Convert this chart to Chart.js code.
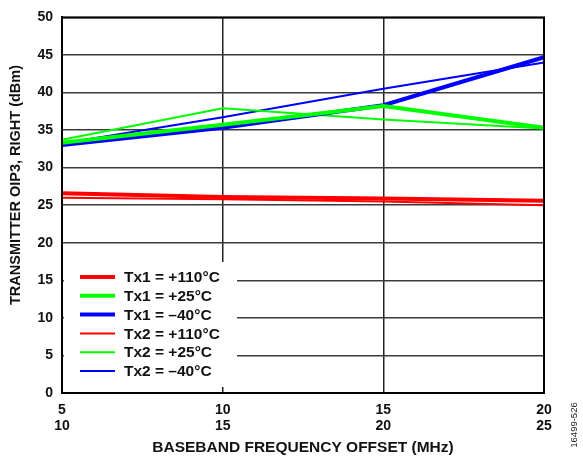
<!DOCTYPE html>
<html>
<head>
<meta charset="utf-8">
<script src="https://cdn.jsdelivr.net/npm/chart.js@4"></script>
<style>
    html, body { margin: 0; padding: 0; background: #fff; }
    #wrap { width: 583px; height: 461px; }
</style>
</head>
<body>
<div id="wrap"><canvas id="oipChart"></canvas></div>
<script>
// X축: 두 줄짜리 주파수 오프셋 라벨
const xLabels = [['5', '10'], ['10', '15'], ['15', '20'], ['20', '25']];
const yTicks = [0, 5, 10, 15, 20, 25, 30, 35, 40, 45, 50];

// Tx1 (굵은 선)
const tx1Hot = [26.6, 26.1, 25.9, 25.6];
const tx1Room = [33.3, 35.7, 38.2, 35.3];
const tx1Cold = [33.0, 35.3, 38.3, 44.7];
// Tx2 (가는 선)
const tx2Hot = [26.0, 25.8, 25.5, 25.0];
const tx2Room = [33.7, 37.9, 36.4, 35.2];
const tx2Cold = [33.2, 36.7, 40.5, 44.0];

const seriesNames = ['Tx1 = +110°C', 'Tx1 = +25°C', 'Tx1 = –40°C', 'Tx2 = +110°C', 'Tx2 = +25°C', 'Tx2 = –40°C'];
const seriesData = [tx1Hot, tx1Room, tx1Cold, tx2Hot, tx2Room, tx2Cold];
const seriesColors = ['#ff0000', '#00ff00', '#0000ff', '#ff0000', '#00ff00', '#0000ff'];
const seriesWidths = [4, 4, 4, 2, 2, 2];

const FONT = '"Liberation Sans", Arial, sans-serif';
const yTitle = 'TRANSMITTER OIP3, RIGHT (dBm)';

// 차트 안쪽 왼쪽 아래 범례 + 테두리 + Y축 제목 + 그림 번호
const insidePlugin = {
    id: 'inside',
    afterDraw(chart) {
        const ctx = chart.ctx;
        const a = chart.chartArea;
        ctx.save();
        // 범례 배경
        ctx.fillStyle = '#fff';
        ctx.fillRect(a.left + 2, a.bottom - 131, 173, 125);
        ctx.font = 'bold 15.5px ' + FONT;
        ctx.textBaseline = 'middle';
        ctx.textAlign = 'left';
        chart.data.datasets.forEach((ds, i) => {
            const y = a.bottom - 116 + i * 18.8;
            ctx.strokeStyle = ds.borderColor;
            ctx.lineWidth = ds.borderWidth;
            ctx.beginPath();
            ctx.moveTo(a.left + 18, y);
            ctx.lineTo(a.left + 53, y);
            ctx.stroke();
            ctx.fillStyle = '#111';
            ctx.fillText(ds.label, a.left + 62, y + 1);
        });
        // 테두리
        ctx.strokeStyle = '#000';
        ctx.lineWidth = 2;
        ctx.strokeRect(a.left, a.top, a.right - a.left, a.bottom - a.top);
        // Y축 제목
        ctx.save();
        ctx.translate(16, 185);
        ctx.rotate(-Math.PI / 2);
        ctx.font = 'bold 14.5px ' + FONT;
        ctx.textAlign = 'center';
        ctx.fillStyle = '#111';
        ctx.fillText(yTitle, 0, 0);
        ctx.restore();
        // 그림 번호
        ctx.translate(574, 425);
        ctx.rotate(-Math.PI / 2);
        ctx.font = '9.5px ' + FONT;
        ctx.textAlign = 'center';
        ctx.fillStyle = '#222';
        ctx.fillText('16499-526', 0, 0);
        ctx.restore();
    }
};

const ctx = document.getElementById('oipChart').getContext('2d');
new Chart(ctx, {
    type: 'line',
    data: {
        labels: xLabels,
        datasets: seriesNames.map((name, i) => ({
            label: name,
            data: seriesData[i],
            borderColor: seriesColors[i],
            backgroundColor: seriesColors[i],
            borderWidth: seriesWidths[i],
            pointRadius: 0,
            tension: 0,
            fill: false
        }))
    },
    options: {
        responsive: true,
        maintainAspectRatio: false,
        animation: false,
        layout: { padding: { left: 0, right: 39, top: 8, bottom: 0 } },
        plugins: {
            legend: { display: false },
            tooltip: { enabled: false }
        },
        scales: {
            x: {
                offset: false,
                grid: { color: '#222', lineWidth: 1.5, drawTicks: false },
                border: { color: '#000', width: 2 },
                ticks: {
                    color: '#111',
                    padding: 9,
                    maxRotation: 0,
                    font: { family: FONT, size: 14, weight: 'bold', lineHeight: 1.143 }
                },
                title: {
                    display: true,
                    text: 'BASEBAND FREQUENCY OFFSET (MHz)',
                    color: '#111',
                    padding: { top: 0, bottom: 4 },
                    font: { family: FONT, size: 15.5, weight: 'bold', lineHeight: 1.2 }
                },
                afterFit(scale) { scale.height = 68; }
            },
            y: {
                min: 0,
                max: 50,
                afterBuildTicks(scale) { scale.ticks = yTicks.map(v => ({ value: v })); },
                grid: { color: '#3a3a3a', lineWidth: 1.5, drawTicks: false },
                border: { color: '#000', width: 2 },
                ticks: {
                    color: '#111',
                    padding: 9,
                    font: { family: FONT, size: 14, weight: 'bold' }
                },
                afterFit(scale) { scale.width = 62; }
            }
        }
    },
    plugins: [insidePlugin]
});
</script>
</body>
</html>
